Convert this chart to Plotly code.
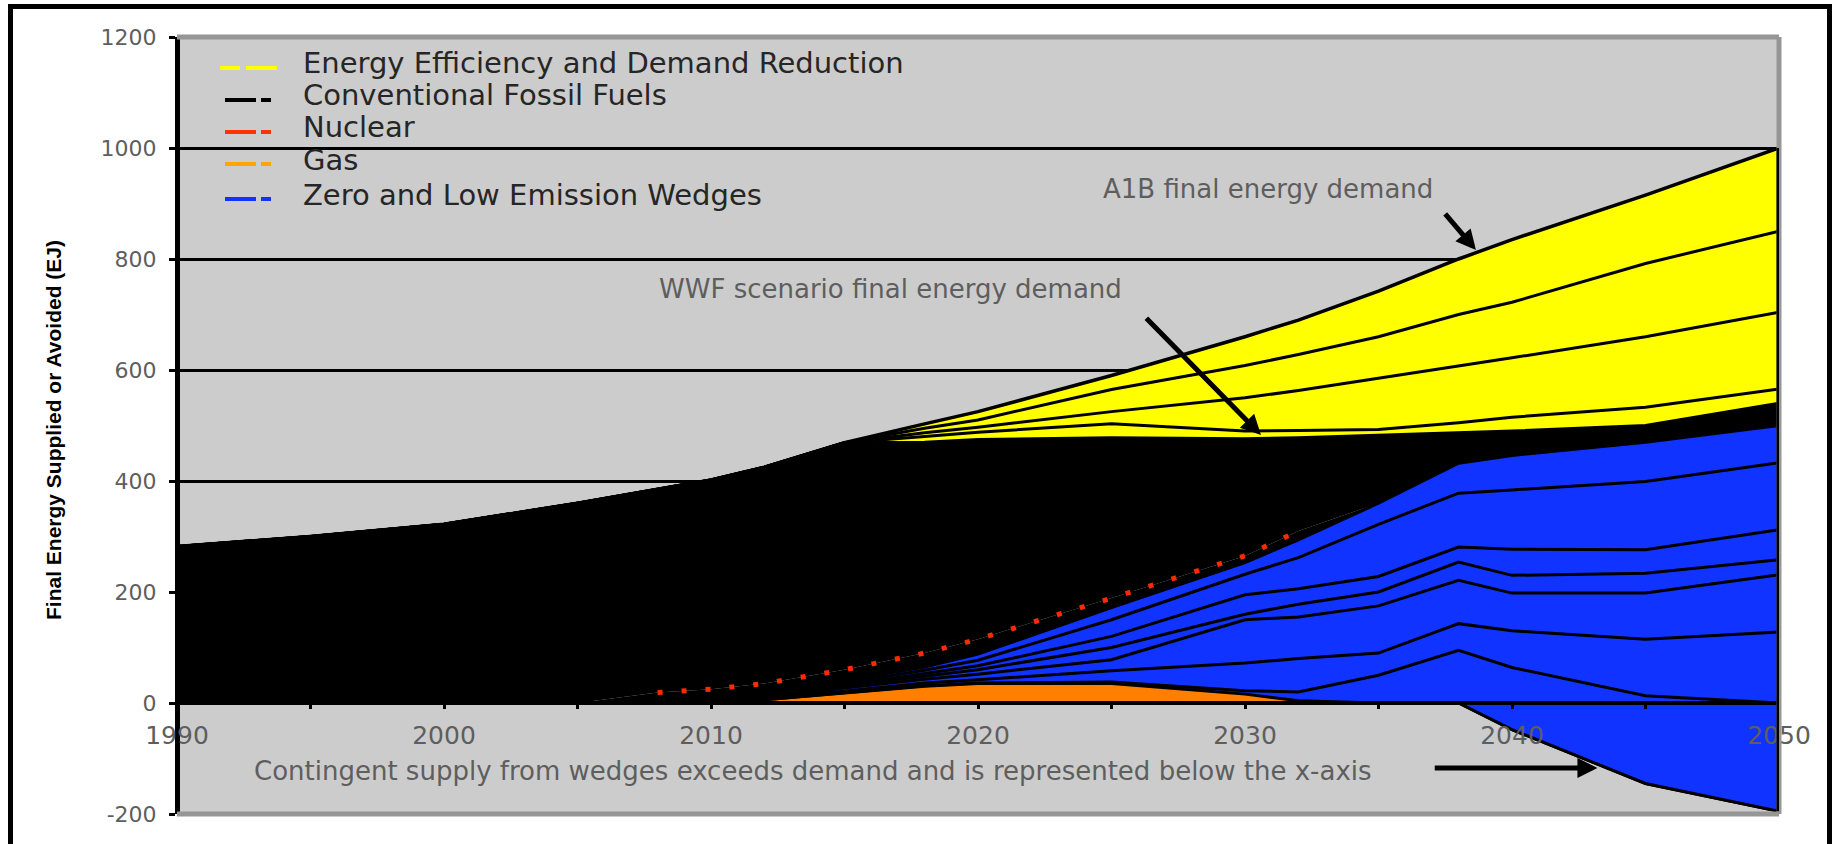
import numpy as np
import plotly.graph_objects as go

# ---------------- data (EJ per year) ----------------
years = [1990, 1995, 2000, 2005, 2008, 2010, 2012, 2015, 2018, 2020,
         2025, 2030, 2032, 2035, 2038, 2040, 2045, 2050]

# contingent wedge supply in excess of demand (plotted below the x-axis)
surplus_supply = [0, 0, 0, 0, 0, 0, 0, 0, 0, 0, 0, 0, 0, 0, 0, -48, -145, -195]
gas = [0, 0, 0, 0, 0, 0, 6, 18, 30, 35, 35, 16, 4, 0, 0, 0, 0, 0]

# zero and low emission wedges, bottom to top
wedge_1 = [0, 0, 0, 0, 0, 0, 0, 1, 1, 1, 3, 6, 16, 50, 95, 112, 158, 195]
wedge_2 = [0, 0, 0, 0, 0, 0, 1, 3, 5, 6, 20, 50, 60, 40, 48, 66, 102, 128]
wedge_3 = [0, 0, 0, 0, 0, 1, 2, 5, 7, 10, 20, 78, 75, 85, 78, 68, 83, 103]
wedge_4 = [0, 0, 0, 0, 0, 0, 1, 3, 5, 8, 22, 10, 23, 25, 33, 32, 36, 27]
wedge_5 = [0, 0, 0, 0, 0, 1, 1, 2, 5, 7, 20, 35, 28, 28, 27, 47, 42, 54]
wedge_6 = [0, 0, 0, 0, 0, 1, 2, 4, 6, 10, 30, 37, 56, 94, 97, 107, 123, 121]
wedge_7 = [0, 0, 0, 0, 0, 2, 2, 4, 6, 11, 22, 21, 32, 38, 54, 62, 71, 67]

nuclear = [0, 0, 0, 0, 19, 20, 20, 20, 25, 27, 17, 12, 16, 0, 0, 0, 0, 0]
fossil = [282, 300, 322, 360, 366, 377, 390, 409, 380, 360, 289, 211, 168, 122, 54, 44, 30, 40]

# energy efficiency and demand reduction wedges (between WWF and A1B demand)
efficiency_1 = [0, 0, 0, 0, 0, 0, 0, 0, 10, 13, 25, 14, 13, 11, 19, 25, 33, 26]
efficiency_2 = [0, 0, 0, 0, 0, 0, 0, 0, 7, 9, 22, 60, 72, 92, 102, 107, 127, 138]
efficiency_3 = [0, 0, 0, 0, 0, 0, 0, 0, 8, 13, 40, 58, 65, 75, 93, 100, 132, 146]
efficiency_4 = [0, 0, 0, 0, 0, 0, 0, 0, 8, 15, 25, 52, 62, 82, 100, 113, 123, 150]

x_tick_values = [1990, 2000, 2010, 2020, 2030, 2040, 2050]
x_tick_labels = ["1990", "2000", "2010", "2020", "2030", "2040", "2050"]
x_minor_ticks = [1995, 2005, 2015, 2025, 2035, 2045]
y_tick_values = [-200, 0, 200, 400, 600, 800, 1000, 1200]
y_tick_labels = ["-200", "0", "200", "400", "600", "800", "1000", "1200"]

legend_labels = ["Energy Efficiency and Demand Reduction", "Conventional Fossil Fuels",
                 "Nuclear", "Gas", "Zero and Low Emission Wedges"]

# ---------------- styling ----------------
YELLOW = "#ffff00"
BLUE = "#1133ff"
ORANGE = "#ff8000"
RED = "#ff2a00"
BLACK = "#000000"
PLOT_BG = "#cccccc"
BORDER_GRAY = "#969696"
TEXT_GRAY = "#5e5e5e"
FONT = "DejaVu Sans"

W, H = 1836, 844
PLOT_L, PLOT_R, PLOT_T, PLOT_B = 177, 1779, 37, 814


def px_x(px):
    return (px - PLOT_L) / (PLOT_R - PLOT_L)


def px_y(py):
    return (PLOT_B - py) / (PLOT_B - PLOT_T)


layers = [
    ("Contingent supply", surplus_supply, BLUE, 3),
    ("Gas", gas, ORANGE, 3),
    ("Wedge 1", wedge_1, BLUE, 3),
    ("Wedge 2", wedge_2, BLUE, 3),
    ("Wedge 3", wedge_3, BLUE, 3),
    ("Wedge 4", wedge_4, BLUE, 3),
    ("Wedge 5", wedge_5, BLUE, 3),
    ("Wedge 6", wedge_6, BLUE, 3),
    ("Wedge 7", wedge_7, BLUE, 3),
    ("Nuclear", nuclear, BLACK, 0),
    ("Conventional Fossil Fuels", fossil, BLACK, 3),
    ("Efficiency 1", efficiency_1, YELLOW, 3),
    ("Efficiency 2", efficiency_2, YELLOW, 3),
    ("Efficiency 3", efficiency_3, YELLOW, 3),
    ("Efficiency 4", efficiency_4, YELLOW, 3.5),
]

fig = go.Figure()
for name, vals, color, lw in layers:
    fig.add_trace(go.Scatter(
        x=years, y=vals, name=name, mode="lines", stackgroup="supply",
        fillcolor=color, line=dict(color=BLACK, width=lw),
        showlegend=False, hoverinfo="skip",
    ))

# nuclear drawn as a dotted red boundary on top of the low-emission wedges
stack = np.cumsum(np.array([v for _, v, _, _ in layers], dtype=float), axis=0)
nuclear_top = stack[9]
has_nuclear = np.array(nuclear) > 0
fig.add_trace(go.Scatter(
    x=np.array(years)[has_nuclear], y=nuclear_top[has_nuclear], mode="lines",
    line=dict(color=RED, width=5, dash="5px,19px"),
    showlegend=False, hoverinfo="skip",
))

total_demand = stack[-1]

shapes = []
# plot-area border (top, right, bottom)
for x0, y0, x1, y1 in [(0, 1, 1, 1), (1, 0, 1, 1), (0, 0, 1, 0)]:
    shapes.append(dict(type="line", xref="paper", yref="paper", x0=x0, y0=y0, x1=x1, y1=y1,
                       line=dict(color=BORDER_GRAY, width=5), layer="above"))
# right-hand edge of the stacked areas
shapes.append(dict(type="line", xref="x", yref="y", x0=years[-1], x1=years[-1],
                   y0=surplus_supply[-1], y1=float(total_demand[-1]),
                   line=dict(color=BLACK, width=5), layer="above"))
# outer frame
shapes.append(dict(type="rect", xref="paper", yref="paper",
                   x0=px_x(10.5), x1=px_x(1829.5), y0=px_y(880), y1=px_y(6.5),
                   line=dict(color=BLACK, width=5), fillcolor="rgba(0,0,0,0)", layer="above"))

# legend symbols
legend_colors = [YELLOW, BLACK, "#ff3300", "#ffa500", BLUE]
legend_sym_y = [68, 100, 132, 164, 199]
legend_text_y = [63, 95, 127, 160, 195]
for i, (c, yy) in enumerate(zip(legend_colors, legend_sym_y)):
    segs = [(220, 240), (246, 277)] if i == 0 else [(225, 256), (261, 271)]
    for a, b in segs:
        shapes.append(dict(type="line", xref="paper", yref="paper",
                           x0=px_x(a), x1=px_x(b), y0=px_y(yy), y1=px_y(yy),
                           line=dict(color=c, width=4), layer="above"))

annotations = []
for label, yy in zip(legend_labels, legend_text_y):
    annotations.append(dict(text=label, xref="paper", yref="paper", x=px_x(301), y=px_y(yy),
                            xanchor="left", yanchor="middle", showarrow=False,
                            font=dict(family=FONT, size=29, color="#262626")))

annotations += [
    dict(text="A1B final energy demand", xref="paper", yref="paper",
         x=px_x(1101), y=px_y(189), xanchor="left", yanchor="middle", showarrow=False,
         font=dict(family=FONT, size=26, color=TEXT_GRAY)),
    dict(text="WWF scenario final energy demand", xref="paper", yref="paper",
         x=px_x(657), y=px_y(289), xanchor="left", yanchor="middle", showarrow=False,
         font=dict(family=FONT, size=26, color=TEXT_GRAY)),
    dict(text="Contingent supply from wedges exceeds demand and is represented below the x-axis",
         xref="paper", yref="paper", x=px_x(252), y=px_y(771), xanchor="left",
         yanchor="middle", showarrow=False,
         font=dict(family=FONT, size=26, color=TEXT_GRAY)),
    dict(text="Final Energy Supplied or Avoided (EJ)", xref="paper", yref="paper",
         x=px_x(53), y=px_y(430), textangle=-90, showarrow=False,
         xanchor="center", yanchor="middle",
         font=dict(family="Liberation Sans", size=21, color=BLACK, weight=700)),
]

# pointer arrows
arrow_style = dict(text="", showarrow=True, arrowhead=2, arrowsize=0.8, arrowwidth=5,
                   arrowcolor=BLACK, xref="x", yref="y", axref="x", ayref="y", standoff=0)
annotations += [
    dict(x=2038.65, y=816, ax=2037.45, ay=884, **arrow_style),
    dict(x=2030.6, y=483, ax=2026.25, ay=696, **arrow_style),
    dict(x=2043.2, y=-117, ax=2037.05, ay=-117, **arrow_style),
]

fig.update_layout(
    width=W, height=H,
    margin=dict(l=PLOT_L, r=W - PLOT_R, t=PLOT_T, b=H - PLOT_B, pad=0),
    paper_bgcolor="white", plot_bgcolor=PLOT_BG,
    showlegend=False,
    shapes=shapes, annotations=annotations,
    xaxis=dict(
        range=[1990, 2050], anchor="free", position=200 / 1400,
        tickmode="array", tickvals=x_tick_values, ticktext=x_tick_labels,
        ticks="outside", ticklen=4, tickwidth=3, tickcolor=BLACK,
        minor=dict(tickvals=x_minor_ticks, ticks="outside", ticklen=4, tickwidth=3,
                   tickcolor=BLACK, showgrid=False),
        showline=True, linecolor=BLACK, linewidth=4,
        showgrid=False, zeroline=False,
        tickfont=dict(family=FONT, size=25, color=TEXT_GRAY),
        ticklabelstandoff=5,
    ),
    yaxis=dict(
        range=[-200, 1200], anchor="free", position=0,
        tickmode="array", tickvals=y_tick_values, ticktext=y_tick_labels,
        ticks="outside", ticklen=6, tickwidth=3, tickcolor=BLACK,
        showline=True, linecolor=BLACK, linewidth=5,
        showgrid=True, gridcolor=BLACK, gridwidth=3, zeroline=False,
        tickfont=dict(family=FONT, size=22, color=TEXT_GRAY),
        ticklabelstandoff=8,
    ),
)

fig.write_html("out.html")
